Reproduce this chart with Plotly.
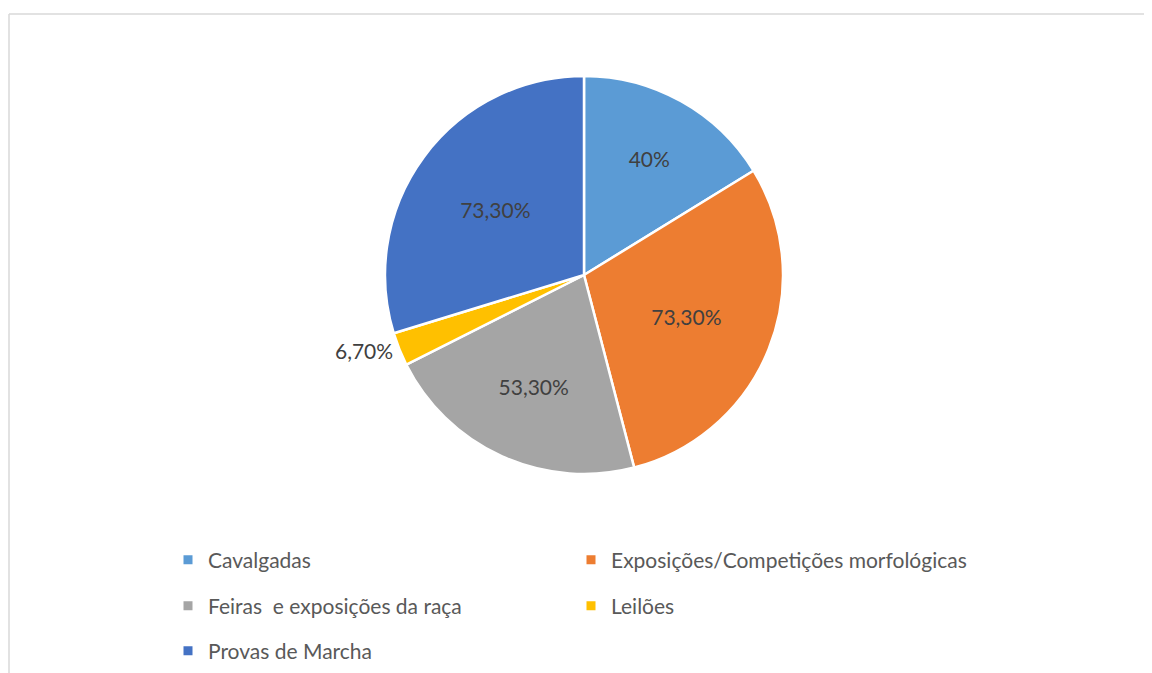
import plotly.graph_objects as go

categories = ["Cavalgadas", "Exposições/Competições morfológicas",
              "Feiras  e exposições da raça", "Leilões", "Provas de Marcha"]
values = [40.0, 73.3, 53.3, 6.7, 73.3]
value_labels = ["40%", "73,30%", "53,30%", "6,70%", "73,30%"]
colors = ["#5B9BD5", "#ED7D31", "#A5A5A5", "#FFC000", "#4472C4"]
legend_rows = [[0, 1], [2, 3], [4]]

# page has an 8px body margin, so the figure is a bit smaller and shifted
OFF = 8
W, H = 1152 - OFF, 673 - OFF
FONT = "Lato"


def px(x):
    return (x - OFF) / W


def py(y):
    return 1 - (y - OFF) / H


fig = go.Figure()

fig.add_trace(go.Pie(
    labels=categories, values=values, text=value_labels,
    texttemplate="%{text}", textinfo="text",
    textposition=["inside", "inside", "inside", "outside", "inside"],
    insidetextorientation="horizontal",
    textfont=dict(family=FONT, size=21, color="#404040"),
    marker=dict(colors=colors, line=dict(color="white", width=2.5)),
    sort=False, direction="clockwise", rotation=0,
    domain=dict(x=[px(385), px(783)], y=[py(474), py(76)]),
    showlegend=False, hoverinfo="label+text",
))

# legend entries, one legend per row so the spacing matches
row_y = [py(560), py(606), py(651)]
legend_names = ["legend", "legend2", "legend3"]
for r, idxs in enumerate(legend_rows):
    for i in idxs:
        fig.add_trace(go.Scatter(
            x=[None], y=[None], mode="markers", name=categories[i],
            marker=dict(symbol="square", size=9, color=colors[i]),
            legend=legend_names[r], showlegend=True,
        ))

leg = dict(orientation="h", x=px(168), xanchor="left", yanchor="middle",
           entrywidth=358, entrywidthmode="pixels", itemwidth=30,
           font=dict(family=FONT, size=21, color="#595959"),
           bgcolor="rgba(0,0,0,0)")

frame = dict(color="#D9D9D9", width=1.5)

fig.update_layout(
    width=W, height=H,
    margin=dict(l=0, r=0, t=0, b=0),
    paper_bgcolor="white", plot_bgcolor="white",
    font=dict(family=FONT),
    xaxis=dict(visible=False), yaxis=dict(visible=False),
    legend=dict(leg, y=row_y[0]),
    legend2=dict(leg, y=row_y[1]),
    legend3=dict(leg, y=row_y[2]),
    shapes=[
        dict(type="line", xref="paper", yref="paper",
             x0=px(9), x1=1.5, y0=py(14), y1=py(14), line=frame),
        dict(type="line", xref="paper", yref="paper",
             x0=px(9), x1=px(9), y0=-0.5, y1=py(14), line=frame),
    ],
)

fig.write_html("out.html")
